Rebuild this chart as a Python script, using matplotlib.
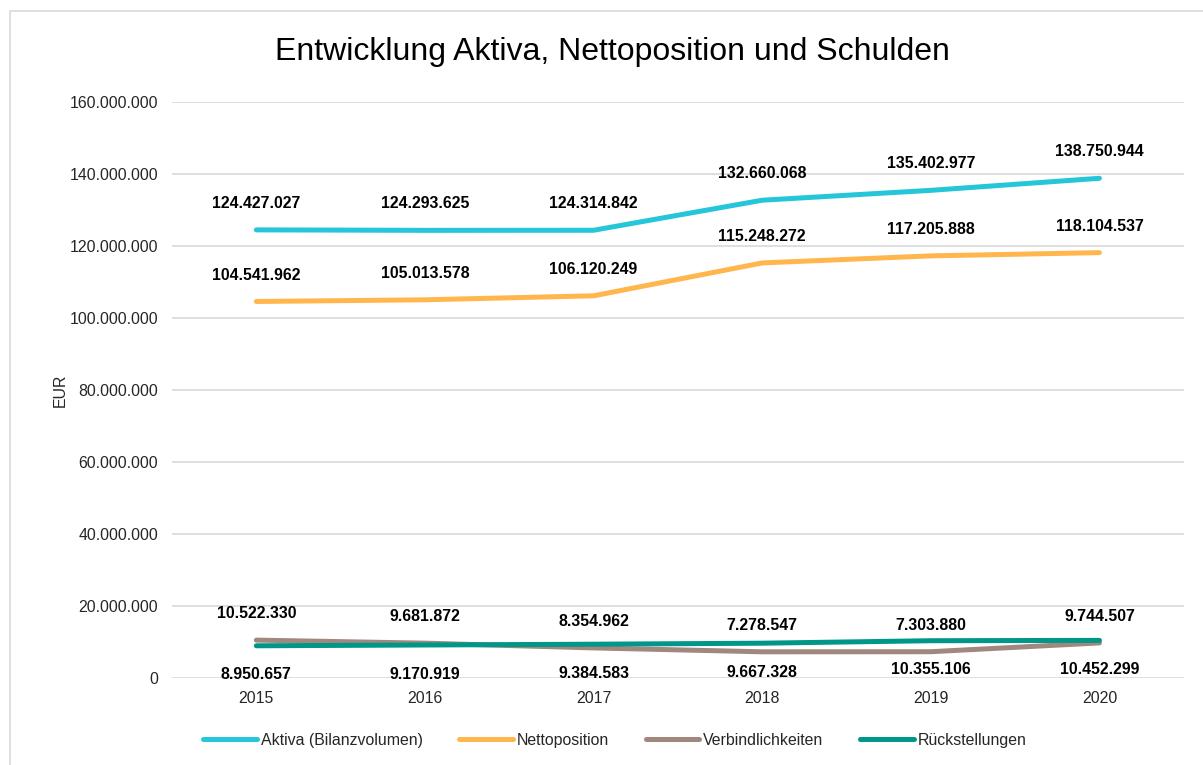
import numpy as np
import matplotlib
matplotlib.use('Agg')
from matplotlib import pyplot as plt
from matplotlib.patches import Rectangle
from matplotlib.ticker import FuncFormatter

plt.rcParams['font.family'] = ['Liberation Sans', 'DejaVu Sans']

years = ['2015', '2016', '2017', '2018', '2019', '2020']
aktiva = [124427027, 124293625, 124314842, 132660068, 135402977, 138750944]
nettoposition = [104541962, 105013578, 106120249, 115248272, 117205888, 118104537]
verbindlichkeiten = [10522330, 9681872, 8354962, 7278547, 7303880, 9744507]
rueckstellungen = [8950657, 9170919, 9384583, 9667328, 10355106, 10452299]

series = [
    ('Aktiva (Bilanzvolumen)', aktiva, '#26C6DA', 19),
    ('Nettoposition', nettoposition, '#FFB74D', 19),
    ('Verbindlichkeiten', verbindlichkeiten, '#A1887F', 19),
    ('Rückstellungen', rueckstellungen, '#009688', -21),
]


def de_fmt(v, pos=None):
    return f'{int(round(v)):,}'.replace(',', '.')


fig = plt.figure(figsize=(12.03, 7.65), dpi=100)
fig.patches.append(Rectangle((10 / 1203, -0.1), 1.2, 1.1 - 11 / 765,
                             transform=fig.transFigure, fill=False,
                             edgecolor='#D9D9D9', linewidth=1.2))
ax = fig.add_axes([0.143, 0.1137, 0.841, 0.7533])

x = np.arange(len(years))
for name, vals, color, off in series:
    ax.plot(x, vals, color=color, linewidth=3.6, solid_capstyle='round',
            solid_joinstyle='round', label=name, zorder=3)
    for xi, v in zip(x, vals):
        ax.annotate(de_fmt(v), (xi, v), xytext=(0, off), textcoords='offset points',
                    ha='center', va='center', fontsize=11.4, fontweight='bold',
                    color='#000000', zorder=4)

ax.set_xlim(-0.5, len(years) - 0.5)
ax.set_ylim(0, 160000000)
ax.set_yticks(np.arange(0, 160000001, 20000000))
ax.yaxis.set_major_formatter(FuncFormatter(de_fmt))
ax.set_xticks(x)
ax.set_xticklabels(years)
ax.tick_params(axis='both', length=0, labelsize=11.4, colors='#262626')
ax.tick_params(axis='y', pad=10)
ax.tick_params(axis='x', pad=9)
ax.grid(axis='y', color='#D9D9D9', linewidth=1.2)
ax.set_axisbelow(True)
for s in ax.spines.values():
    s.set_visible(False)
ax.set_ylabel('EUR', fontsize=11.4, color='#262626', labelpad=1)

fig.text(0.509, 0.932, 'Entwicklung Aktiva, Nettoposition und Schulden',
         ha='center', va='center', fontsize=23, color='#000000')

fig.legend(loc='center', bbox_to_anchor=(0.511, 0.032), ncol=4, frameon=False,
           fontsize=11.4, handlelength=3.4, handletextpad=0.25, columnspacing=2.3,
           labelcolor='#262626')

fig.savefig('out.png', dpi=100)
